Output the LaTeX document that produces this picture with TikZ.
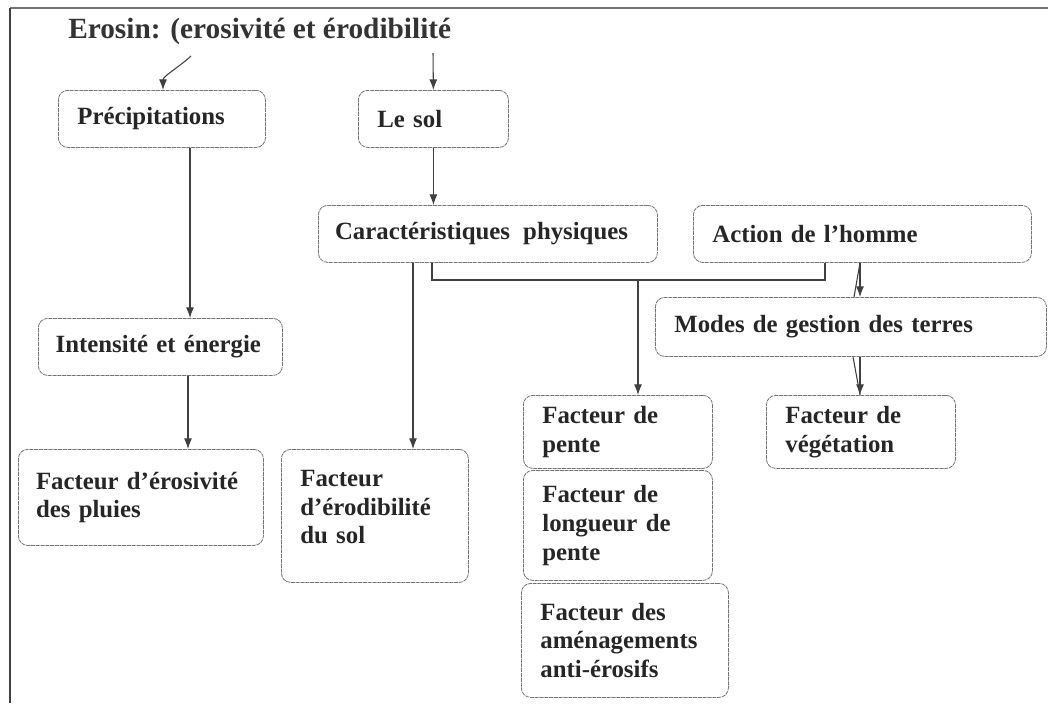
\documentclass[tikz,border=0pt]{standalone}
\usepackage{fontspec}
\setmainfont{Liberation Serif}
\usetikzlibrary{arrows.meta}
\newcommand\myboxfont{\fontsize{18.6}{21.5}\selectfont\bfseries\hyphenpenalty=10000\relax}
\begin{document}
\begin{tikzpicture}[x=0.75pt,y=-0.75pt,
 box/.style={draw=black!55, line width=0.6pt, dash pattern=on 3pt off 0.6pt, rounded corners=7pt, anchor=north west, align=left, inner xsep=14.25pt, inner ysep=2pt, font=\myboxfont, text=black!85},
 conn/.style={draw=black!75, line width=0.8pt},
 arr/.style={conn, -{Latex[length=8pt,width=6pt]}},
]
\useasboundingbox (0,0) rectangle (1048,703);
\draw[black!55, line width=1pt] (1048,8) -- (10,8);
\draw[black!75, line width=1.5pt] (10,8) -- (10,703);

\node[anchor=base west, font=\fontsize{22}{26}\selectfont\bfseries, text=black!80, inner sep=0pt] (title) at (68,38) {Erosin: (erosivité et érodibilité};

\node[box, text width=126.75pt, minimum height=42.75pt] (prec) at (58,90) {Précipitations};
\node[box, text width=84pt, minimum height=42.75pt] (sol) at (358,90) {Le sol};
\node[box, text width=229.25pt, inner xsep=12.5pt, minimum height=42.75pt] (carac) at (318,205) {Caractéristiques\hspace{0.2em} physiques};
\node[box, text width=225pt, minimum height=42.75pt] (action) at (693,205) {Action de l’homme};
\node[box, text width=264.75pt, minimum height=44.25pt] (modes) at (655,297) {Modes de gestion des terres};
\node[box, text width=157pt, inner xsep=13pt, minimum height=42.75pt] (inten) at (38,318) {Intensité et énergie};
\node[box, text width=157.25pt, inner xsep=13.25pt, minimum height=72pt] (erosiv) at (18,449) {Facteur d’érosivité\\des pluies};
\node[box, text width=111.75pt, minimum height=99.75pt] (erodib) at (281,449) {Facteur\\d’érodibilité\\du sol\\[-8pt]\mbox{}};
\node[box, text width=113.25pt, minimum height=54.75pt] (pente) at (523,395) {Facteur de\\pente};
\node[box, text width=113.25pt, minimum height=82.5pt] (longueur) at (523,470) {Facteur de\\longueur de\\pente};
\node[box, text width=126.75pt, minimum height=85.5pt] (amen) at (521,583) {Facteur des\\aménagements\\anti-érosifs};
\node[box, text width=113.25pt, minimum height=54.75pt] (veg) at (766,395) {Facteur de\\végétation};

\coordinate (x163) at (163,0);
\coordinate (x188) at (188,0);
\coordinate (x190) at (190,0);
\coordinate (x413) at (413,0);
\coordinate (x432) at (432,0);
\coordinate (x825) at (825,0);
\coordinate (x853) at (853,0);
\coordinate (x854) at (854,0);
\coordinate (x860) at (860,0);
\coordinate (t1) at (191,56);
\coordinate (t2) at (433,53);
\coordinate (j) at (638,280);

\draw[arr] (t1) .. controls (178,68) and (163,76) .. (prec.north -| x163);
\draw[arr] (t2) -- (sol.north);
\draw[arr] (prec.south -| x190) -- (inten.north -| x190);
\draw[arr] (inten.south -| x188) -- (erosiv.north -| x188);
\draw[arr] (sol.south) -- (carac.north -| sol.south);
\draw[arr] (carac.south -| x413) -- (erodib.north -| x413);
\draw[conn] (carac.south -| x432) |- (j) -| (action.south -| x825);
\draw[arr] (j) -- (pente.north -| j);
\draw[arr] (action.south -| x860) -- (modes.north -| x860);
\draw[conn] (action.south -| x860) -- (modes.north -| x854);
\draw[arr] (modes.south -| x860) -- (veg.north -| x860);
\draw[conn] (modes.south -| x853) -- (veg.north -| x860);
\end{tikzpicture}
\end{document}
